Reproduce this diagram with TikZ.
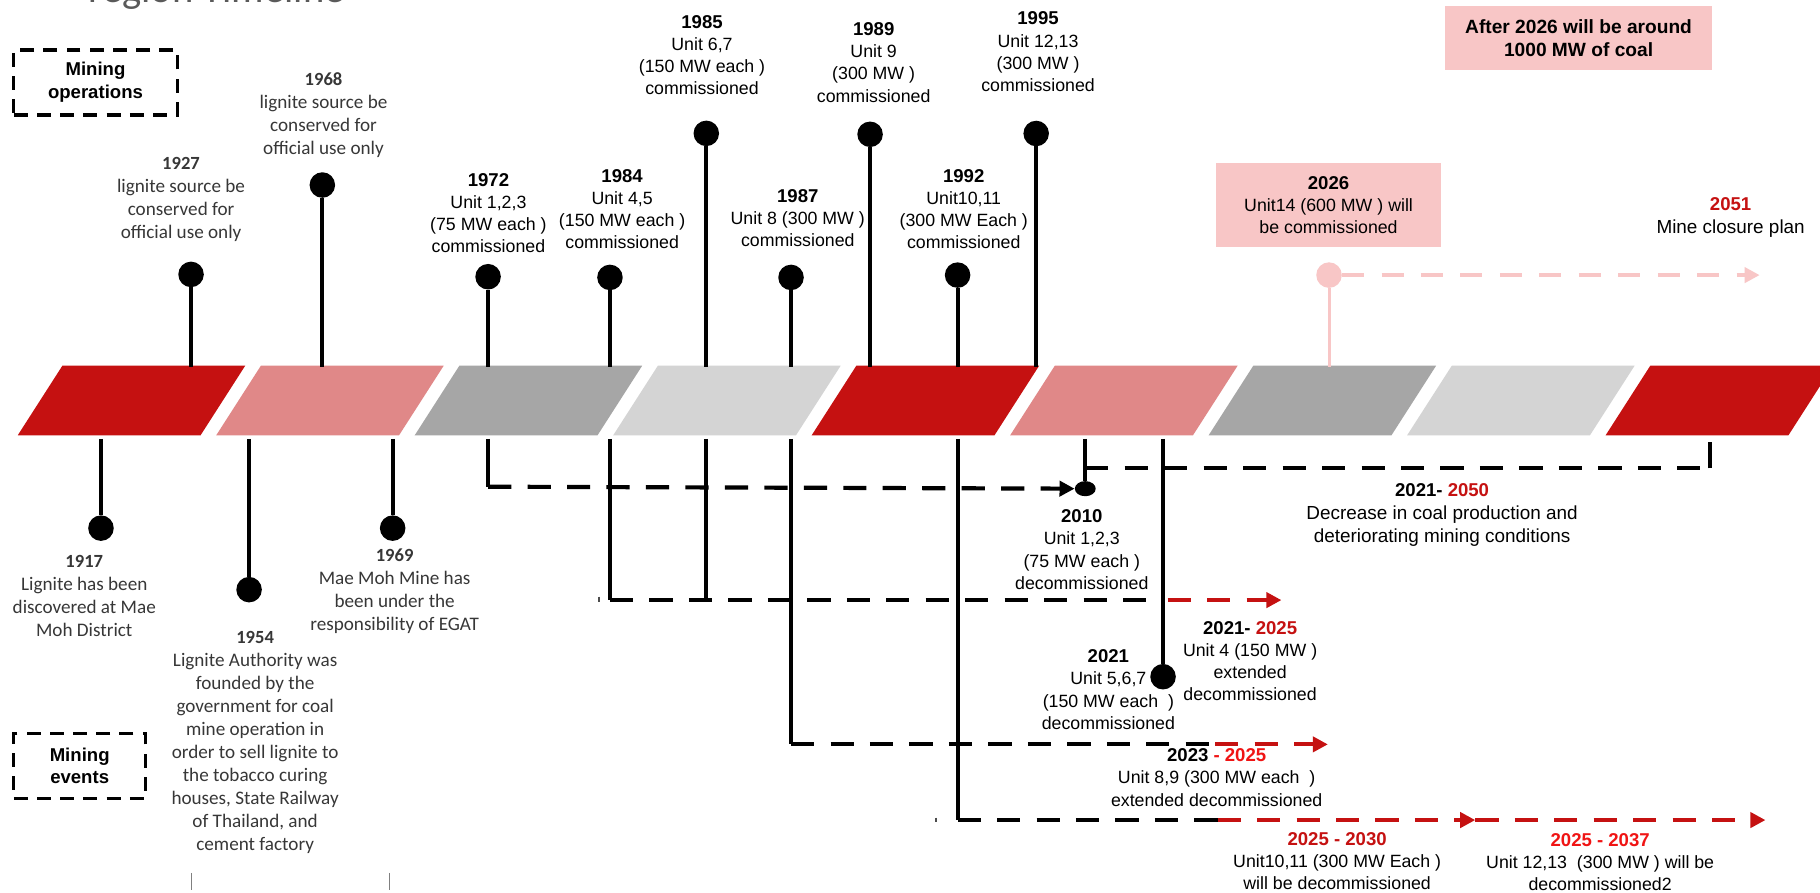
\documentclass[tikz,border=0pt]{standalone}
\usepackage{fontspec}
\setmainfont{Liberation Sans}
\newfontfamily\calibri{Carlito}
\usetikzlibrary{arrows.meta,shapes.geometric}
\definecolor{bandred}{RGB}{197,17,17}
\definecolor{bandpink}{RGB}{224,136,136}
\definecolor{bandgray}{RGB}{166,166,166}
\definecolor{bandlight}{RGB}{212,212,212}
\definecolor{boxpink}{RGB}{248,198,198}
\definecolor{darkred}{RGB}{197,17,17}
\definecolor{brightred}{RGB}{240,20,20}
\definecolor{calgray}{RGB}{55,55,55}
\definecolor{titlegray}{RGB}{90,90,90}
\newcommand\ryear[1]{{\bfseries\fontsize{16}{19}\selectfont #1}}
\newcommand\cyear[1]{{\bfseries\fontsize{16}{19.8}\selectfont #1}}
\tikzset{
  arial/.style={font=\fontsize{15.3}{19}\selectfont, align=center, inner sep=0pt, text=black},
  arialbig/.style={font=\fontsize{16.3}{20}\selectfont, align=center, inner sep=0pt, text=black},
  calib/.style={font=\calibri\fontsize{16.5}{19.8}\selectfont, align=center, inner sep=0pt, text=calgray},
  ldot/.style={circle, fill=black, inner sep=0pt, minimum size=22pt},
  stem/.style={draw=black, line width=3.6pt},
  dashln/.style={draw=black, line width=3.6pt, dash pattern=on 20pt off 14pt},
  redln/.style={dashln, draw=darkred},
  arrowtip/.style={-{Triangle[length=13pt,width=13pt]}},
  legendbox/.style={draw=black, line width=2.8pt, dash pattern=on 12pt off 8pt, inner sep=0pt, align=center, font=\bfseries\fontsize{16}{19.6}\selectfont}
}
\begin{document}
\begin{tikzpicture}[x=1pt,y=-1pt]
\useasboundingbox (0,0) rectangle (1568,769);
\clip (0,0) rectangle (1568,769);
\fill[white] (0,0) rectangle (1568,769);

% title (cut off at top)
\node[anchor=base west, font=\calibri\fontsize{35}{40}\selectfont, text=titlegray, inner sep=0pt] (title) at (76,2) {region Timeline};

% timeline band
\foreach \i/\c in {0/bandred,1/bandpink,2/bandgray,3/bandlight,4/bandred,5/bandpink,6/bandgray,7/bandlight,8/bandred}
  \fill[\c] ({15.3+171*\i},375) -- ++(157.5,0) -- ++(38.5,-60) -- ++(-157.5,0) -- cycle;

% legend boxes
\node[legendbox, minimum width=140.7pt, minimum height=56pt] (mops) at (82.25,71) {Mining\\operations};
\node[legendbox, minimum width=113.5pt, minimum height=56pt] (mevt) at (68.65,659.8) {Mining\\events};

% lollipops above the band
\foreach \n/\x/\y in {1927/164.6/236.4, 1968/277.7/159.4, 1972/420.5/238.4, 1984/525.5/239, 1985/608.5/114.9, 1987/681.5/239, 1989/749.6/115.7, 1992/825/237, 1995/892.7/115} {
  \node[ldot] (d\n) at (\x,\y) {};
  \coordinate (t\n) at (\x,316);
  \draw[stem] (d\n) -- (t\n);
}

% lollipops below the band
\foreach \n/\x/\y in {1917/87/455, 1954/214.6/508, 1969/338.3/455} {
  \node[ldot] (d\n) at (\x,\y) {};
  \coordinate (u\n) at (\x,378);
  \draw[stem] (u\n) -- (d\n);
}

% below-band stems for later connectors
\foreach \n/\x in {1972/420.5, 1984/525.5, 1985/608.5, 1987/681.5, 1992/825, 2010/935, 2021/1002}
  \coordinate (u\n) at (\x,378);

% 1972 -> 2010
\coordinate (k1972) at (420.5,419.3);
\draw[stem] (u1972) -- (k1972);
\node[ellipse, fill=black, minimum width=18pt, minimum height=13pt, inner sep=0pt] (e2010) at (935,421) {};
\draw[dashln, arrowtip] (k1972) -- (e2010.west);
\draw[stem] (u2010) -- (e2010);

% 2021-2050 bracket
\coordinate (j2010) at (935,403.5);
\coordinate (k2050) at (1473,403.5);
\coordinate (u2050) at (1473,381);
\draw[dashln] (j2010) -- (k2050);
\draw[stem] (k2050) -- (u2050);

% 1984/1985 -> 2021
\coordinate (k1984) at (525.5,517);
\coordinate (k1985) at (608.5,517);
\draw[stem] (u1984) -- (k1984);
\draw[stem] (u1985) -- (k1985);
\node[ldot] (d2021) at (1002,583) {};
\draw[stem] (u2021) -- (d2021);
\coordinate (j2021) at (1002,517);
\coordinate (r2125) at (1006,517);
\coordinate (a2125) at (1104,517);
\draw[dashln] (k1984) -- (j2021);
\draw[redln, arrowtip] (r2125) -- (a2125);

% 1987 -> 2023-2025
\coordinate (k1987) at (681.5,641.3);
\draw[stem] (u1987) -- (k1987);
\coordinate (r2325) at (1047,641.3);
\coordinate (a2325) at (1144,641.3);
\draw[dashln] (k1987) -- (r2325);
\draw[redln, arrowtip] (r2325) -- (a2325);

% 1992 -> 2025-2030 -> 2025-2037
\coordinate (k1992) at (825,706.5);
\draw[stem] (u1992) -- (k1992);
\coordinate (r2530) at (1049,706.5);
\coordinate (a2530) at (1271,706.5);
\coordinate (a2537) at (1521,706.5);
\draw[dashln] (k1992) -- (r2530);
\draw[redln, arrowtip] (r2530) -- (a2530);
\draw[redln, arrowtip] (a2530) -- (a2537);

% 2026 pink lollipop and arrow to 2051
\node[circle, fill=boxpink, minimum size=22pt, inner sep=0pt] (d2026) at (1145,237) {};
\coordinate (t2026) at (1145,316);
\draw[line width=2.6pt, boxpink] (d2026) -- (t2026);
\coordinate (a2051) at (1516,237);
\draw[line width=4pt, boxpink, dash pattern=on 19pt off 15pt, arrowtip] (d2026.east) -- (a2051);

% small marks
\draw[line width=1.2pt, black!70] (516,514) -- (516,519);
\draw[line width=1.2pt, black!70] (806.4,704.5) -- (806.4,708.5);
\draw[line width=0.7pt, gray] (164.6,752) -- (164.6,767);
\draw[line width=0.7pt, gray] (335.6,752) -- (335.6,767);

% pink boxes
\node[fill=boxpink, minimum width=230pt, minimum height=55pt, inner sep=0pt, align=center, font=\bfseries\fontsize{16.5}{20}\selectfont] (after) at (1360,32.7) {After 2026 will be around\\1000 MW of coal};
\node[fill=boxpink, minimum width=194pt, minimum height=72.4pt, inner sep=0pt, arial] (l2026) at (1144.6,176.9) {\ryear{2026}\\Unit14 (600 MW ) will\\be commissioned};

% labels above
\node[calib] (l1927) at (156,171.6) {\cyear{1927}\\lignite source be\\conserved for\\official use only};
\node[calib] (l1968) at (278.7,99.1) {\cyear{1968}\\lignite source be\\conserved for\\official use only};
\node[arial] (l1972) at (420.8,183.5) {\ryear{1972}\\Unit 1,2,3\\(75 MW each )\\commissioned};
\node[arial] (l1984) at (536,179.8) {\ryear{1984}\\Unit 4,5\\(150 MW each )\\commissioned};
\node[arial] (l1985) at (604.8,47.8) {\ryear{1985}\\Unit 6,7\\(150 MW each )\\commissioned};
\node[arial] (l1987) at (687.3,187.9) {\ryear{1987}\\Unit 8 (300 MW )\\commissioned};
\node[arial] (l1989) at (752.7,53.9) {\ryear{1989}\\Unit 9\\(300 MW )\\commissioned};
\node[arial] (l1992) at (830.3,180.5) {\ryear{1992}\\Unit10,11\\(300 MW Each )\\commissioned};
\node[arial] (l1995) at (894.3,44.5) {\ryear{1995}\\Unit 12,13\\(300 MW )\\commissioned};
\node[arialbig] (l2051) at (1491,187.1) {\ryear{\textcolor{darkred}{2051}}\\Mine closure plan};

% labels below
\node[calib] (l1917) at (72.6,513.7) {\cyear{1917}\\Lignite has been\\discovered at Mae\\Moh District};
\node[calib] (l1969) at (340,509) {\cyear{1969}\\Mae Moh Mine has\\been under the\\responsibility of EGAT};
\node[calib] (l1954) at (219.8,639.9) {\cyear{1954}\\Lignite Authority was\\founded by the\\government for coal\\mine operation in\\order to sell lignite to\\the tobacco curing\\houses, State Railway\\of Thailand, and\\cement factory};
\node[arial] (l2010) at (932,473.5) {\ryear{2010}\\Unit 1,2,3\\(75 MW each )\\decommissioned};
\node[arialbig] (l2050) at (1242.4,443.7) {\ryear{2021- \textcolor{darkred}{2050}}\\Decrease in coal production and\\deteriorating mining conditions};
\node[arial] (l2125) at (1077,569.3) {\ryear{2021- \textcolor{darkred}{2025}}\\Unit 4 (150 MW )\\extended\\decommissioned};
\node[arial] (l2021) at (954.9,594.1) {\ryear{2021}\\Unit 5,6,7\\(150 MW each\ \ )\\decommissioned};
\node[arial] (l2325) at (1048.2,669.9) {\ryear{2023 \textcolor{brightred}{- 2025}}\\Unit 8,9 (300 MW each\ \ )\\extended decommissioned};
\node[arial] (l2530) at (1152,742) {\ryear{\textcolor{darkred}{2025 - 2030}}\\Unit10,11 (300 MW Each )\\will be decommissioned};
\node[arial] (l2537) at (1378.6,743) {\ryear{\textcolor{brightred}{2025 - 2037}}\\Unit 12,13\ \ (300 MW ) will be\\decommissioned2};
\end{tikzpicture}
\end{document}
